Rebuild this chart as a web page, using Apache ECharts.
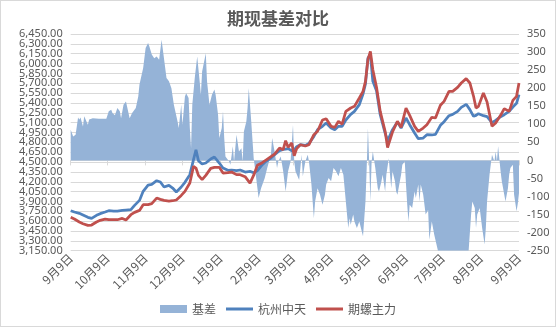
<!DOCTYPE html>
<html><head><meta charset="utf-8">
<script src="https://cdn.jsdelivr.net/npm/echarts@6/dist/echarts.min.js"></script>
<style>
html,body{margin:0;padding:0;background:#fff}
#c{width:556px;height:328px;position:absolute;left:0;top:0}
#f{position:absolute;left:0;top:0;width:556px;height:327px;box-sizing:border-box;border:1px solid #d9d9d9;pointer-events:none}
</style>
</head><body><div id="c"></div><div id="f"></div>
<script>
// ---- data ----
const lineDates = ['2020-09-09','2020-09-12','2020-09-16','2020-09-19','2020-09-23','2020-09-26','2020-09-30','2020-10-03','2020-10-07','2020-10-10','2020-10-14','2020-10-17','2020-10-21','2020-10-24','2020-10-28','2020-10-31','2020-11-04','2020-11-07','2020-11-11','2020-11-14','2020-11-18','2020-11-21','2020-11-24','2020-11-28','2020-12-01','2020-12-04','2020-12-08','2020-12-11','2020-12-15','2020-12-18','2020-12-20','2020-12-22','2020-12-25','2020-12-28','2021-01-01','2021-01-04','2021-01-08','2021-01-11','2021-01-15','2021-01-18','2021-01-22','2021-01-25','2021-01-29','2021-02-02','2021-02-05','2021-02-08','2021-02-12','2021-02-15','2021-02-19','2021-02-22','2021-02-26','2021-03-01','2021-03-03','2021-03-05','2021-03-08','2021-03-10','2021-03-12','2021-03-15','2021-03-19','2021-03-22','2021-03-26','2021-03-29','2021-04-02','2021-04-05','2021-04-09','2021-04-12','2021-04-15','2021-04-18','2021-04-21','2021-04-25','2021-04-28','2021-05-02','2021-05-05','2021-05-07','2021-05-09','2021-05-11','2021-05-13','2021-05-16','2021-05-19','2021-05-23','2021-05-25','2021-05-26','2021-05-29','2021-06-02','2021-06-05','2021-06-09','2021-06-12','2021-06-16','2021-06-19','2021-06-23','2021-06-26','2021-06-30','2021-07-03','2021-07-07','2021-07-10','2021-07-14','2021-07-17','2021-07-21','2021-07-24','2021-07-28','2021-07-31','2021-08-03','2021-08-05','2021-08-07','2021-08-11','2021-08-14','2021-08-18','2021-08-21','2021-08-25','2021-08-28','2021-09-01','2021-09-04','2021-09-07','2021-09-09'];
const spot = [3759,3739,3719,3693,3658,3642,3688,3714,3739,3759,3754,3754,3764,3769,3774,3840,3916,4054,4150,4160,4216,4196,4120,4145,4104,4044,4120,4191,4308,4536,4688,4521,4470,4485,4546,4577,4485,4409,4374,4379,4368,4379,4348,4358,4338,4368,4460,4511,4561,4612,4673,4693,4698,4704,4673,4683,4734,4764,4754,4785,4891,4993,5044,5094,5018,4993,5044,5044,5140,5226,5272,5374,5536,5689,6084,6135,5729,5587,5221,4942,4830,4866,4993,5110,5018,5171,5069,4942,4856,4866,4917,4912,4922,5059,5115,5206,5226,5272,5333,5379,5298,5196,5211,5237,5206,5191,5100,5135,5191,5221,5272,5338,5394,5526];
const futures = [3658,3632,3587,3561,3536,3541,3587,3612,3632,3622,3622,3622,3642,3617,3698,3734,3764,3851,3851,3866,3952,3932,3916,3906,3911,3922,3992,4054,4181,4434,4409,4297,4231,4297,4404,4419,4419,4333,4338,4348,4308,4308,4277,4180,4300,4450,4490,4531,4582,4622,4714,4688,4825,4724,4790,4597,4704,4764,4744,4764,4917,4968,5140,5160,5044,5028,5120,5079,5272,5323,5348,5475,5577,5729,6059,6186,5907,5638,5272,4968,4720,4780,4957,5120,5028,5323,5211,5044,4968,5018,5069,5181,5171,5364,5424,5577,5577,5638,5704,5770,5704,5501,5323,5348,5551,5414,5044,5094,5211,5313,5272,5440,5501,5704];
const basisDates = ['2020-09-09','2020-09-10','2020-09-11','2020-09-13','2020-09-15','2020-09-16','2020-09-17','2020-09-19','2020-09-20','2020-09-21','2020-09-23','2020-09-24','2020-09-27','2020-10-02','2020-10-08','2020-10-10','2020-10-12','2020-10-13','2020-10-15','2020-10-17','2020-10-19','2020-10-20','2020-10-22','2020-10-24','2020-10-25','2020-10-27','2020-10-28','2020-10-29','2020-11-01','2020-11-03','2020-11-04','2020-11-07','2020-11-09','2020-11-11','2020-11-12','2020-11-14','2020-11-16','2020-11-18','2020-11-20','2020-11-22','2020-11-26','2020-11-28','2020-11-30','2020-12-02','2020-12-05','2020-12-06','2020-12-08','2020-12-09','2020-12-11','2020-12-12','2020-12-14','2020-12-15','2020-12-16','2020-12-17','2020-12-19','2020-12-21','2020-12-23','2020-12-24','2020-12-25','2020-12-28','2020-12-29','2020-12-31','2021-01-02','2021-01-04','2021-01-05','2021-01-07','2021-01-08','2021-01-10','2021-01-11','2021-01-12','2021-01-13','2021-01-16','2021-01-17','2021-01-19','2021-01-20','2021-01-22','2021-01-23','2021-01-24','2021-01-26','2021-01-27','2021-01-28','2021-01-30','2021-01-31','2021-02-01','2021-02-03','2021-02-05','2021-02-07','2021-02-09','2021-02-11','2021-02-14','2021-02-16','2021-02-19','2021-02-20','2021-02-22','2021-02-24','2021-02-25','2021-02-27','2021-03-01','2021-03-03','2021-03-05','2021-03-07','2021-03-09','2021-03-10','2021-03-11','2021-03-14','2021-03-15','2021-03-16','2021-03-17','2021-03-19','2021-03-21','2021-03-22','2021-03-24','2021-03-25','2021-03-26','2021-03-27','2021-03-29','2021-03-31','2021-04-02','2021-04-04','2021-04-05','2021-04-07','2021-04-09','2021-04-11','2021-04-13','2021-04-15','2021-04-17','2021-04-19','2021-04-21','2021-04-23','2021-04-24','2021-04-25','2021-04-27','2021-04-28','2021-04-30','2021-05-02','2021-05-04','2021-05-05','2021-05-07','2021-05-08','2021-05-09','2021-05-10','2021-05-11','2021-05-12','2021-05-13','2021-05-15','2021-05-17','2021-05-18','2021-05-20','2021-05-21','2021-05-23','2021-05-24','2021-05-26','2021-05-27','2021-05-28','2021-05-29','2021-05-31','2021-06-01','2021-06-02','2021-06-04','2021-06-05','2021-06-06','2021-06-08','2021-06-09','2021-06-10','2021-06-11','2021-06-12','2021-06-14','2021-06-16','2021-06-17','2021-06-19','2021-06-20','2021-06-21','2021-06-23','2021-06-25','2021-06-27','2021-06-28','2021-06-30','2021-07-02','2021-07-05','2021-07-09','2021-07-14','2021-07-19','2021-07-24','2021-07-30','2021-08-01','2021-08-02','2021-08-04','2021-08-05','2021-08-06','2021-08-08','2021-08-10','2021-08-12','2021-08-13','2021-08-14','2021-08-16','2021-08-17','2021-08-18','2021-08-20','2021-08-21','2021-08-22','2021-08-23','2021-08-25','2021-08-26','2021-08-28','2021-08-29','2021-08-31','2021-09-01','2021-09-02','2021-09-04','2021-09-05','2021-09-07','2021-09-08','2021-09-09'];
const basis = [85,80,66,71,119,113,119,94,122,117,99,113,117,115,115,136,140,131,125,145,136,117,154,163,162,117,122,131,145,177,210,256,311,325,316,293,283,288,279,334,228,219,200,154,108,90,154,99,177,186,173,90,34,154,228,288,219,182,246,297,219,154,182,196,182,126,62,90,136,62,11,-3,-12,39,-3,71,48,25,34,-3,80,108,145,200,108,6,-49,-104,-77,-49,-21,16,62,25,-21,-3,11,-30,-86,-30,-3,99,-3,-30,-54,-21,16,-44,-3,16,-3,-67,-114,-160,-114,-77,-95,-123,-95,-67,-49,-58,-21,-30,-44,-21,-40,-114,-187,-160,-178,-150,-169,-187,-169,-197,-210,-114,-21,90,-3,-114,-3,25,-21,-77,-86,-58,-40,-86,-40,6,-40,-77,-30,-58,-86,-95,-58,-40,-12,-3,-67,-123,-169,-123,-132,-86,-104,-67,-114,-67,-95,-150,-137,-220,-169,-206,-250,-250,-250,-250,-250,-250,-150,-114,-132,-187,-150,-132,-187,-233,-187,-114,-40,-12,16,-3,25,-3,39,-30,-58,-95,-114,-77,-40,-21,-12,-95,-141,-120,-90];
const seriesNames = ['基差','杭州中天','期螺主力'];
const titleText = '期现基差对比';
const startDate = '2020-09-09', endDate = '2021-09-09';
const leftMin = 3150, leftMax = 6450, leftStep = 150;
const rightMin = -250, rightMax = 350, rightStep = 50;

// ---- calendar-day categories ----
const allDates = [];
for (let t = Date.parse(startDate + 'T00:00:00Z'); t <= Date.parse(endDate + 'T00:00:00Z'); t += 86400000) {
  allDates.push(new Date(t).toISOString().slice(0, 10));
}
const isNinth = (i, v) => v.slice(8) === '09';
const grey = '#595959';
const lineIcon = 'path://M0,0L0.01,0ZM0,2.6H27V5.4H0ZM27,8L26.99,8Z';
const fmtMoney = v => v.toLocaleString('en-US', {minimumFractionDigits: 2, maximumFractionDigits: 2});
// labels next to the min/max are drawn by a twin axis so ECharts does not drop them as overlaps
const nearEnds = v => v === leftMin + leftStep || v === leftMax - leftStep;
const leftLabel = {color: grey, fontSize: 11, fontFamily: 'Noto Sans', margin: 8,
  showMinLabel: true, showMaxLabel: true, hideOverlap: false};
const chart = echarts.init(document.getElementById('c'), null, {renderer: 'canvas'});
chart.setOption({
  animation: false,
  backgroundColor: '#ffffff',
  title: {text: titleText, left: 'center', top: 5,
    textStyle: {fontFamily: 'Noto Sans CJK SC', fontSize: 17, fontWeight: 'bold', color: grey}},
  legend: {bottom: 8, left: 'center', itemWidth: 27, itemHeight: 8, itemGap: 10,
    textStyle: {fontFamily: 'Noto Sans CJK SC', fontSize: 12, color: grey},
    data: [{name: seriesNames[0], icon: 'rect'},
           {name: seriesNames[1], icon: lineIcon},
           {name: seriesNames[2], icon: lineIcon}]},
  grid: {left: 70.7, right: 37, top: 34, bottom: 77.3},
  xAxis: {type: 'category', data: allDates, boundaryGap: false,
    axisLine: {lineStyle: {color: '#d9d9d9'}},
    axisTick: {interval: isNinth, length: 5, lineStyle: {color: '#d9d9d9'}},
    axisLabel: {interval: isNinth, rotate: 45, margin: 5, color: grey, fontSize: 12,
      fontFamily: 'Noto Sans CJK SC',
      formatter: v => (+v.slice(5, 7)) + '月' + (+v.slice(8)) + '日'},
    splitLine: {show: false}},
  yAxis: [
    {type: 'value', min: leftMin, max: leftMax, interval: leftStep,
      axisLine: {show: false}, axisTick: {show: false},
      splitLine: {lineStyle: {color: '#d9d9d9'}},
      axisLabel: Object.assign({}, leftLabel, {formatter: v => nearEnds(v) ? '' : fmtMoney(v)})},
    {type: 'value', min: rightMin, max: rightMax, interval: rightStep, position: 'right',
      axisLine: {show: false}, axisTick: {show: false}, splitLine: {show: false},
      axisLabel: {color: grey, fontSize: 11, fontFamily: 'Noto Sans', margin: 8,
        showMinLabel: true, showMaxLabel: true}},
    {type: 'value', min: leftMin, max: leftMax, interval: leftStep, position: 'left',
      axisLine: {show: false}, axisTick: {show: false}, splitLine: {show: false},
      axisLabel: Object.assign({}, leftLabel, {formatter: v => nearEnds(v) ? fmtMoney(v) : ''})}
  ],
  series: [
    {name: seriesNames[0], type: 'line', yAxisIndex: 1, symbol: 'none', showSymbol: false,
      data: basisDates.map((d, i) => [d, basis[i]]),
      lineStyle: {width: 0}, itemStyle: {color: '#95b3d7'},
      areaStyle: {color: '#95b3d7', opacity: 1}},
    {name: seriesNames[1], type: 'line', symbol: 'none', showSymbol: false,
      data: lineDates.map((d, i) => [d, spot[i]]),
      lineStyle: {width: 2.75, color: '#4f81bd'}, itemStyle: {color: '#4f81bd'}},
    {name: seriesNames[2], type: 'line', symbol: 'none', showSymbol: false,
      data: lineDates.map((d, i) => [d, futures[i]]),
      lineStyle: {width: 2.75, color: '#c0504d'}, itemStyle: {color: '#c0504d'}}
  ]
});
</script></body></html>
